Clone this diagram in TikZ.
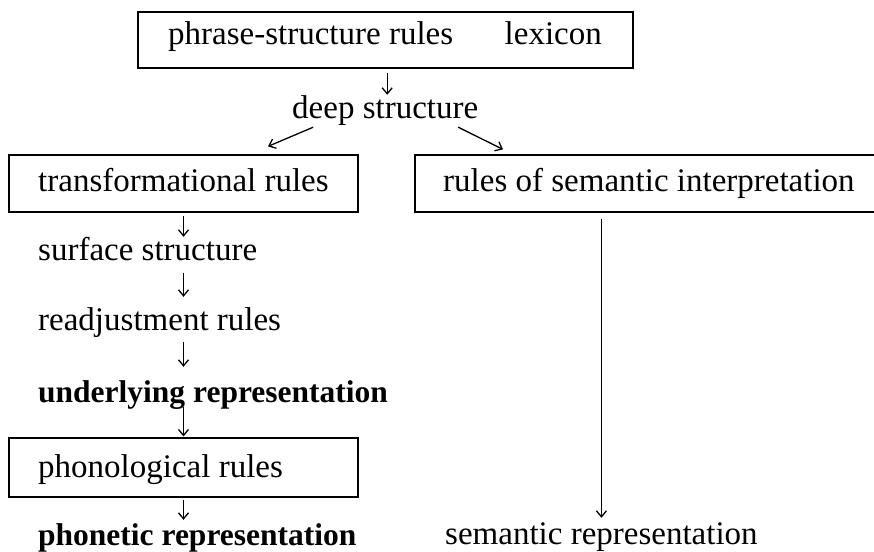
\documentclass[tikz,border=0pt]{standalone}
\usepackage{fontspec}
\setmainfont{Liberation Serif}
\usetikzlibrary{arrows.meta}
\begin{document}
\begin{tikzpicture}[x=1pt,y=-1pt,
  box/.style={draw=black, line width=1.2pt, inner sep=0pt},
  lbl/.style={anchor=base west, inner sep=0pt, text height=22pt, text depth=7pt,
              font=\fontsize{33}{36}\selectfont},
  blbl/.style={lbl, font=\fontsize{31.5}{34}\selectfont\bfseries},
  arr/.style={line width=1.3pt, -{Straight Barb[length=6pt,width=10pt,line width=1.3pt]}}]
\useasboundingbox (0,0) rectangle (874,551);

% boxed rule components (the semantic box runs off the right edge)
\node[box, minimum width=495pt, minimum height=56pt] (top) at (385.5,40) {};
\node[box, minimum width=349pt, minimum height=57pt] (tr)  at (183.5,183.5) {};
\node[box, minimum width=485pt, minimum height=57pt] (sem) at (657.5,183.5) {};
\node[box, minimum width=349pt, minimum height=59pt] (phon) at (183.5,467.5) {};

% labels
\node[lbl] (psr) at (168,45) {phrase-structure rules};
\node[lbl, anchor=base east] (lex) at (602,45) {lexicon};
\node[lbl] (deep) at (292,118) {deep structure};
\node[lbl] (trT) at (38,191) {transformational rules};
\node[lbl] (semT) at (443,191) {rules of semantic interpretation};
\node[lbl] (surf) at (38,260) {surface structure};
\node[lbl] (read) at (38,330) {readjustment rules};
\node[blbl] (under) at (38,402) {underlying representation};
\node[lbl] (phonT) at (38,477) {phonological rules};
\node[blbl] (phonetic) at (38,545) {phonetic representation};
\node[lbl] (semrep) at (445,544) {semantic representation};

% derivation arrows
\draw[arr, shorten <=4pt, shorten >=1pt] ([xshift=2pt]deep.north |- top.south) -- ([xshift=2pt]deep.north);
\draw[arr] ([shift={(-72pt,-2pt)}]deep.south) -- ([shift={(84.5pt,8pt)}]tr.north);
\draw[arr] ([shift={(73pt,-2pt)}]deep.south) -- ([shift={(-154.5pt,5pt)}]sem.north);
\draw[arr, shorten <=3pt, shorten >=1pt] (tr.south) -- (tr.south |- surf.north);
\draw[arr, shorten <=6pt, shorten >=11pt] (tr.south |- surf.south) -- (tr.south |- read.north);
\draw[arr, shorten <=5pt, shorten >=13pt] (tr.south |- read.south) -- (tr.south |- under.north);
\draw[arr, shorten <=-2pt, shorten >=1pt] (tr.south |- under.south) -- (phon.north);
\draw[arr, shorten <=2pt, shorten >=3pt] (phon.south) -- (phon.south |- phonetic.north);
\draw[arr, shorten <=6pt, shorten >=4pt] (semrep.north |- sem.south) -- (semrep.north);
\end{tikzpicture}
\end{document}
